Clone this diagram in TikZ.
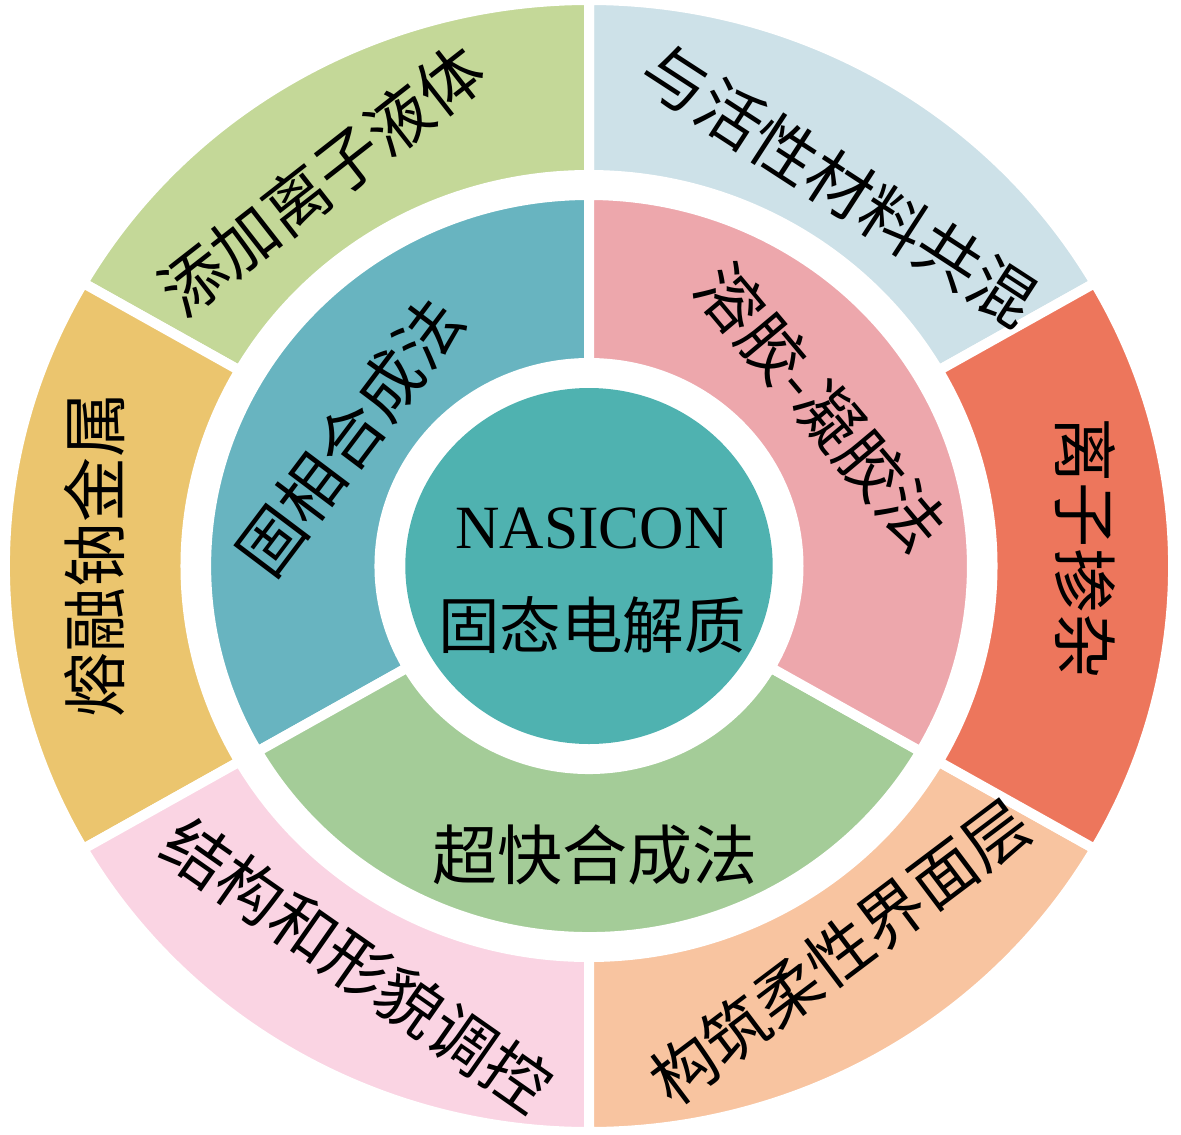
\documentclass[tikz,border=0pt]{standalone}
\usepackage{fontspec}
\setmainfont{Liberation Serif}
\newfontfamily\cjk{Noto Sans CJK SC}
\usetikzlibrary{positioning}
\definecolor{leafgreen}{HTML}{C4D898}
\definecolor{iceblue}{HTML}{CDE1E8}
\definecolor{mustard}{HTML}{EBC56E}
\definecolor{rosepink}{HTML}{FAD4E3}
\definecolor{peach}{HTML}{F8C4A0}
\definecolor{coral}{HTML}{ED765C}
\definecolor{steelteal}{HTML}{68B4C0}
\definecolor{salmonpink}{HTML}{EDA7AC}
\definecolor{sagegreen}{HTML}{A4CC98}
\definecolor{coreteal}{HTML}{4FB2B0}

\begin{document}
\begin{tikzpicture}[
		sector/.style={draw=white,line width=1mm},
		every node/.append style={inner sep=0pt},
		outerlabel/.style={font=\cjk\fontsize{18.5}{18.5}\selectfont},
		innerlabel/.style={font=\cjk\fontsize{18.5}{18.5}\selectfont},
	]
	\useasboundingbox (-5.89,-5.68) rectangle (5.92,5.66);
	\begin{scope}[xscale=1.032]
		% outer ring
		\foreach \a/\b/\c in {30/90/iceblue,90/150/leafgreen,150/210/mustard,
			210/270/rosepink,270/330/peach,-30/30/coral}
			\filldraw[sector,fill=\c] (\a:5.66) arc[start angle=\a,end angle=\b,radius=5.66]
				-- (\b:3.91) arc[start angle=\b,end angle=\a,radius=3.91] -- cycle;
		% middle ring
		\foreach \a/\b/\c in {90/210/steelteal,210/330/sagegreen,-30/90/salmonpink}
			\filldraw[sector,fill=\c] (\a:3.71) arc[start angle=\a,end angle=\b,radius=3.71]
				-- (\b:2.03) arc[start angle=\b,end angle=\a,radius=2.03] -- cycle;
		% core
		\fill[coreteal] (0,0) circle (1.78);
	\end{scope}
	% labels of the outer ring
	\node[outerlabel,rotate=-33] (blending) at (2.51,3.81) {与活性材料共混};
	\node[outerlabel,rotate=38] (ionicliquid) at (-2.67,3.86) {添加离子液体};
	\node[outerlabel,rotate=90] (moltenna) at (-4.94,0.11) {熔融钠金属};
	\node[outerlabel,rotate=-35] (morphology) at (-2.32,-3.99) {结构和形貌调控};
	\node[outerlabel,rotate=37] (interlayer) at (2.51,-3.86) {构筑柔性界面层};
	\node[outerlabel,rotate=-90] (doping) at (4.96,0.18) {离子掺杂};
	% labels of the middle ring
	\node[innerlabel,rotate=53] (solidstate) at (-2.39,1.29) {固相合成法};
	\node[innerlabel,rotate=-50] (solgel) at (2.33,1.59) {溶胶-凝胶法};
	\node[innerlabel] (ultrafast) at (0.06,-2.89) {超快合成法};
	% core text
	\node[font=\fontsize{17.5}{17.5}\selectfont] (nasicon) at (0.03,0.38) {NASICON};
	\node[font=\cjk\fontsize{17.5}{17.5}\selectfont] (electrolyte) at (0.03,-0.59) {固态电解质};
\end{tikzpicture}
\end{document}
